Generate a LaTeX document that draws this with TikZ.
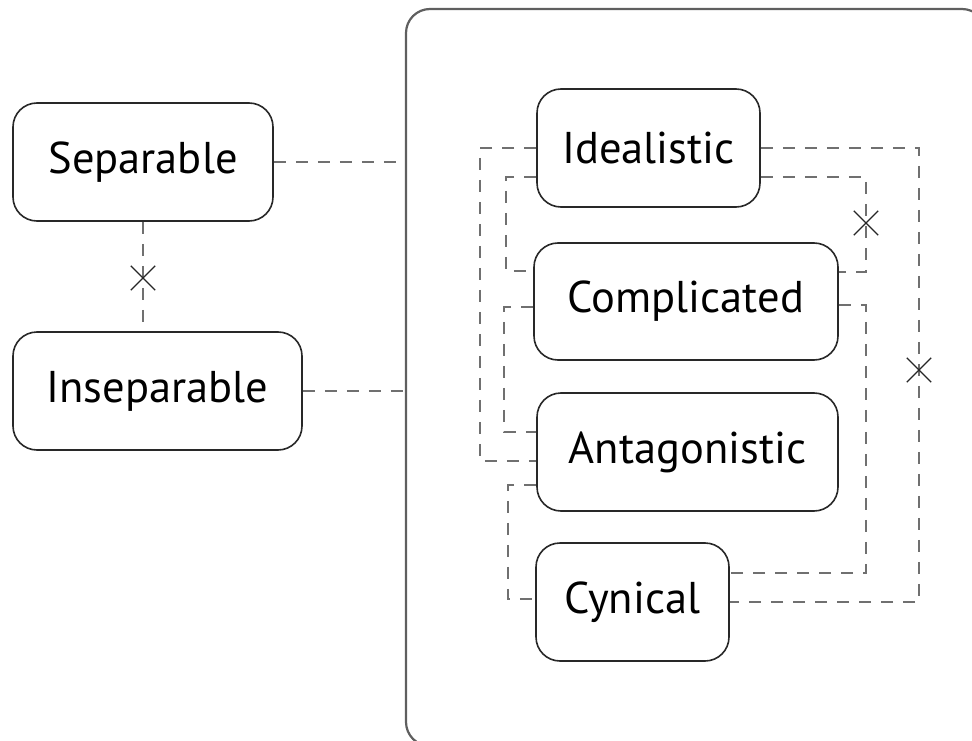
\documentclass[tikz,border=0pt]{standalone}
\usepackage{fontspec}
\setmainfont{PT Sans}
\usetikzlibrary{shapes.misc}
\definecolor{conncol}{RGB}{112,112,112}
\definecolor{boxcol}{RGB}{40,40,40}
\definecolor{grpcol}{RGB}{95,95,95}
\begin{document}
\begin{tikzpicture}[x=1pt,y=-1pt,
  box/.style={draw=boxcol, line width=1.6pt, rounded corners=24pt, fill=white, inner sep=0pt,
    font=\fontsize{44.5}{52}\selectfont, text=black},
  conn/.style={draw=conncol, line width=2.8pt, dash pattern=on 12pt off 10pt},
  xmark/.style={cross out, draw=black!85, line width=1.3pt, minimum size=23pt, inner sep=0pt}]
\useasboundingbox (0,0) rectangle (972,741);
\node[draw=grpcol, line width=2.2pt, rounded corners=24pt, minimum width=580pt, minimum height=737pt, inner sep=0pt] (grp) at (696,377.5) {};

\node[box, minimum width=260pt, minimum height=118pt] (sep) at (143,162) {Separable};
\node[box, minimum width=289pt, minimum height=118pt] (insep) at (157.5,391) {Inseparable};
\node[box, minimum width=223pt, minimum height=118pt] (ideal) at (648.5,148) {Idealistic};
\node[box, minimum width=304pt, minimum height=117pt] (compl) at (686,301.5) {Complicated};
\node[box, minimum width=301pt, minimum height=118pt] (antag) at (687.5,452) {Antagonistic};
\node[box, minimum width=193pt, minimum height=118pt] (cyn) at (632.5,602) {Cynical};

\draw[conn] (sep.east) -- (sep.east -| grp.west);
\draw[conn] (insep.east) -- (insep.east -| grp.west);
\draw[conn] (sep.south) -- (sep.south |- insep.north);

\draw[conn] (ideal.west) -| (480,461) -- ([yshift=-9pt]antag.west);
\draw[conn] ([yshift=-29pt]ideal.west) -| (506,271) -- ([yshift=30.5pt]compl.west);
\draw[conn] ([yshift=-5.5pt]compl.west) -| (504,432) -- ([yshift=20pt]antag.west);
\draw[conn] ([yshift=-33pt]antag.west) -| (508,599) -- ([yshift=3pt]cyn.west);

\draw[conn] (ideal.east) -| (919,602) -- (cyn.east);
\draw[conn] ([yshift=-29pt]ideal.east) -| (866,272) -- ([yshift=29.5pt]compl.east);
\draw[conn] ([yshift=-3.5pt]compl.east) -| (866,573) -- ([yshift=29pt]cyn.east);

\node[xmark] (x1) at (143,278) {};
\node[xmark] (x2) at (866,223) {};
\node[xmark] (x3) at (919,370) {};
\end{tikzpicture}
\end{document}
